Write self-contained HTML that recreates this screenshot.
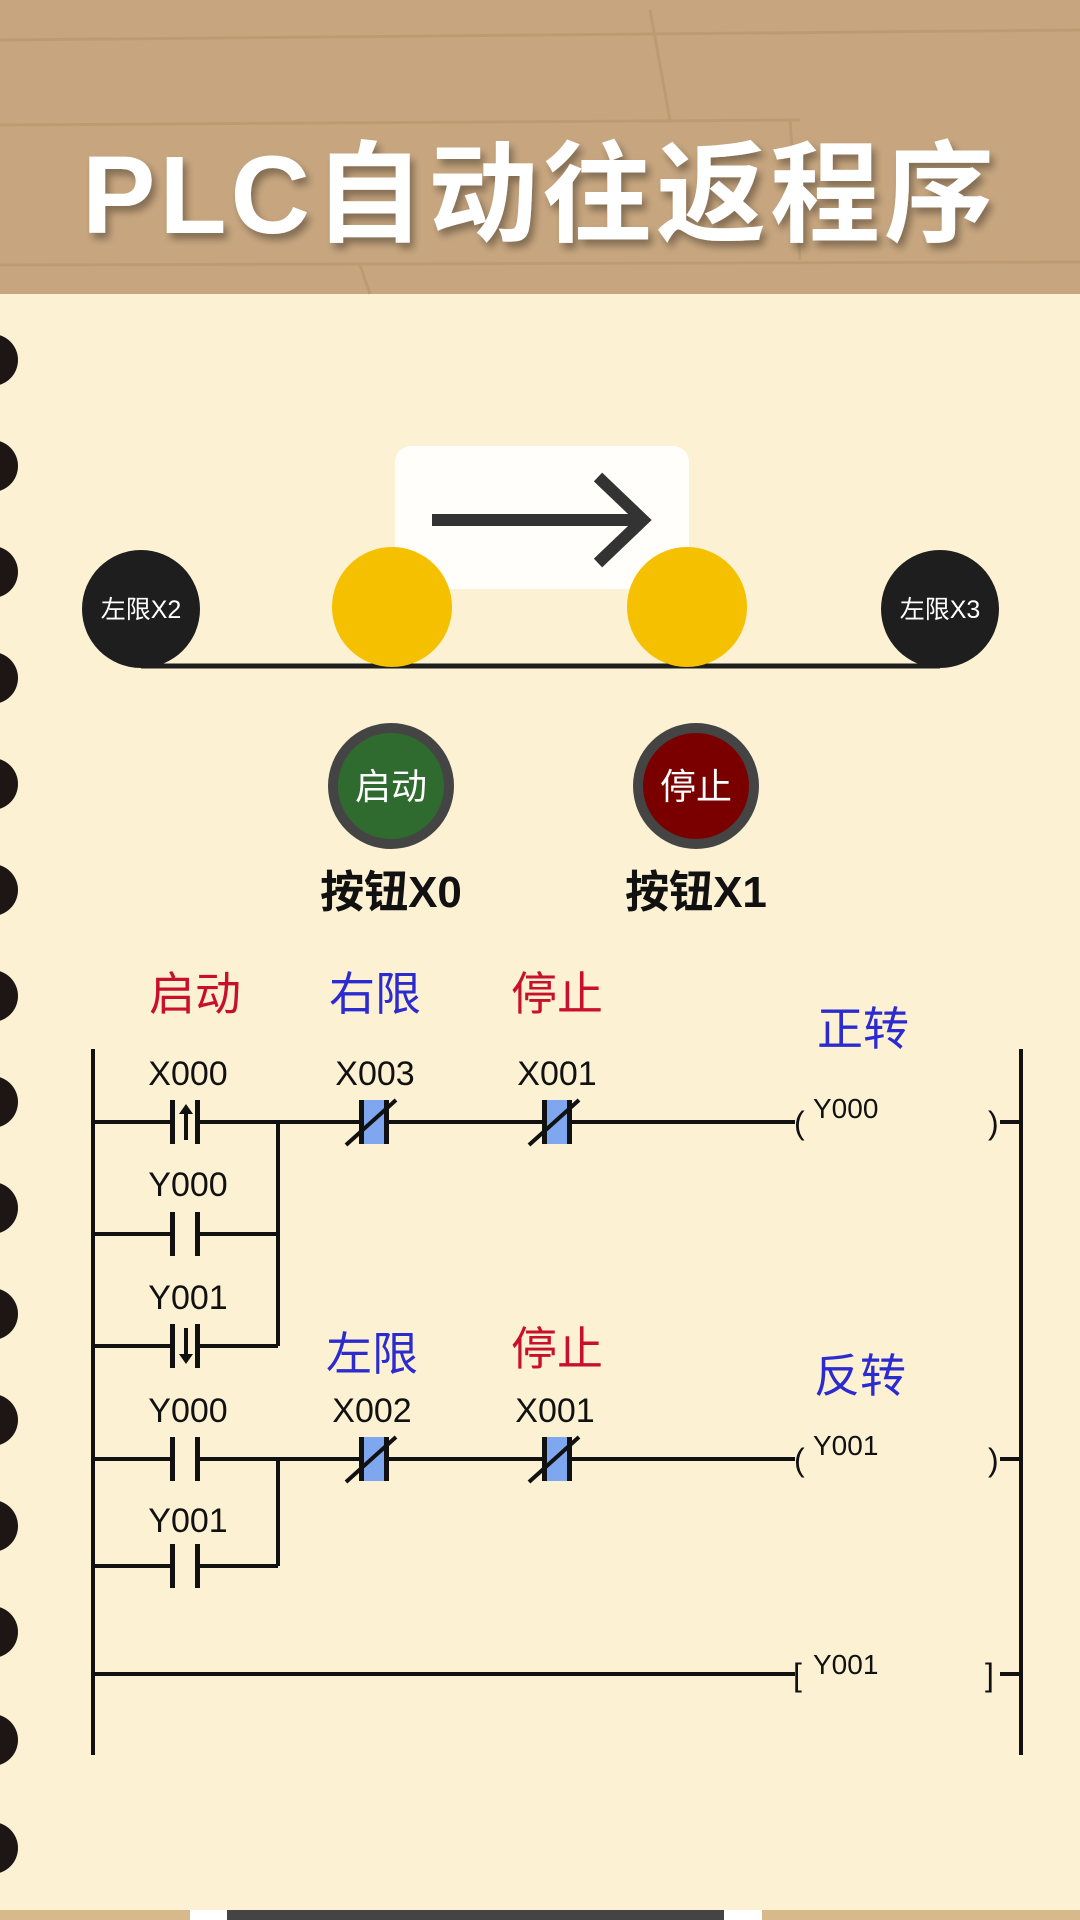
<!DOCTYPE html>
<html><head><meta charset="utf-8"><style>
html,body{margin:0;padding:0;width:1080px;height:1920px;overflow:hidden;background:#FCF1D3;}
svg{display:block}
</style></head><body>
<svg width="1080" height="1920" viewBox="0 0 1080 1920" xmlns="http://www.w3.org/2000/svg" font-family="Liberation Sans, Noto Sans CJK SC, sans-serif">
<defs>
<filter id="sh" x="-10%" y="-10%" width="120%" height="130%"><feDropShadow dx="4" dy="6" stdDeviation="4" flood-color="#000" flood-opacity="0.35"/></filter>
</defs>
<rect width="1080" height="1920" fill="#FCF1D3"/>
<!-- wood header -->
<rect width="1080" height="294" fill="#C7A67F"/>
<g stroke="#B8946B" stroke-width="3" fill="none" opacity="0.6">
<line x1="0" y1="40" x2="1080" y2="30"/><line x1="0" y1="125" x2="800" y2="120"/><line x1="650" y1="10" x2="670" y2="120"/>
<line x1="0" y1="265" x2="1080" y2="262"/><line x1="360" y1="265" x2="370" y2="294"/><line x1="790" y1="120" x2="800" y2="260"/>
</g>
<text x="540" y="233" text-anchor="middle" font-size="110" font-weight="bold" fill="#fff" filter="url(#sh)" letter-spacing="4" font-family="Liberation Sans, Noto Sans CJK SC, sans-serif">PLC自动往返程序</text>
<!-- bottom strip -->
<rect y="1910" width="1080" height="10" fill="#D8B98C"/>
<rect x="190" y="1910" width="40" height="10" fill="#fff"/>
<rect x="227" y="1910" width="497" height="10" fill="#444"/>
<rect x="724" y="1910" width="38" height="10" fill="#fff"/>
<!-- binder holes -->
<g fill="#1E1614">
<circle cx="-8" cy="360" r="26"/><circle cx="-8" cy="466" r="26"/><circle cx="-8" cy="572" r="26"/><circle cx="-8" cy="678" r="26"/><circle cx="-8" cy="784" r="26"/><circle cx="-8" cy="890" r="26"/><circle cx="-8" cy="996" r="26"/><circle cx="-8" cy="1102" r="26"/><circle cx="-8" cy="1208" r="26"/><circle cx="-8" cy="1314" r="26"/><circle cx="-8" cy="1420" r="26"/><circle cx="-8" cy="1526" r="26"/><circle cx="-8" cy="1632" r="26"/><circle cx="-8" cy="1740" r="26"/><circle cx="-8" cy="1848" r="26"/>
</g>
<!-- track -->
<rect x="395" y="446" width="294" height="143" rx="16" fill="#FFFEFA"/>
<line x1="432" y1="520" x2="640" y2="520" stroke="#333" stroke-width="12"/>
<polyline points="598,477 643,520 598,563" fill="none" stroke="#333" stroke-width="12"/>
<line x1="141" y1="666" x2="940" y2="666" stroke="#1E1E1E" stroke-width="5"/>
<circle cx="141" cy="609" r="59" fill="#1E1E1E"/>
<circle cx="940" cy="609" r="59" fill="#1E1E1E"/>
<text x="141" y="618" text-anchor="middle" font-size="25" fill="#fff">左限X2</text>
<text x="940" y="618" text-anchor="middle" font-size="25" fill="#fff">左限X3</text>
<circle cx="392" cy="607" r="60" fill="#F5C000"/>
<circle cx="687" cy="607" r="60" fill="#F5C000"/>
<!-- buttons -->
<circle cx="391" cy="786" r="63" fill="#444"/><circle cx="391" cy="786" r="53" fill="#2F6B2E"/>
<circle cx="696" cy="786" r="63" fill="#444"/><circle cx="696" cy="786" r="53" fill="#7A0000"/>
<text x="391" y="799" text-anchor="middle" font-size="36" fill="#fff">启动</text>
<text x="696" y="799" text-anchor="middle" font-size="36" fill="#fff">停止</text>
<text x="391" y="907" text-anchor="middle" font-size="44" font-weight="bold" fill="#111">按钮X0</text>
<text x="696" y="907" text-anchor="middle" font-size="44" font-weight="bold" fill="#111">按钮X1</text>
<!-- labels -->
<g font-size="46">
<text x="195" y="1010" text-anchor="middle" fill="#C8102E">启动</text>
<text x="375" y="1010" text-anchor="middle" fill="#2B2BD0">右限</text>
<text x="557" y="1010" text-anchor="middle" fill="#C8102E">停止</text>
<text x="863" y="1045" text-anchor="middle" fill="#2B2BD0">正转</text>
<text x="372" y="1370" text-anchor="middle" fill="#2B2BD0">左限</text>
<text x="557" y="1365" text-anchor="middle" fill="#C8102E">停止</text>
<text x="860" y="1392" text-anchor="middle" fill="#2B2BD0">反转</text>
</g>
<!-- ladder -->
<g stroke="#111" stroke-width="4" fill="none">
<line x1="93" y1="1049" x2="93" y2="1755"/>
<line x1="1021" y1="1049" x2="1021" y2="1755"/>
<!-- rung1 -->
<path d="M93 1122 H172 M198 1122 H360 M387 1122 H543 M569 1122 H795"/>
<path d="M93 1234 H172 M198 1234 H278 M93 1346 H172 M198 1346 H278 M278 1122 V1346"/>
<path d="M1000 1122 H1021"/>
<!-- rung2 -->
<path d="M93 1459 H172 M198 1459 H360 M387 1459 H543 M569 1459 H795"/>
<path d="M93 1566 H172 M198 1566 H278 M278 1459 V1566"/>
<path d="M1000 1459 H1021"/>
<!-- rung3 -->
<path d="M93 1674 H795 M1000 1674 H1021"/>
</g>
<!-- contact plates -->
<g fill="#111">
<rect x="170" y="1100" width="5" height="44"/><rect x="195" y="1100" width="5" height="44"/>
<rect x="170" y="1212" width="5" height="44"/><rect x="195" y="1212" width="5" height="44"/>
<rect x="170" y="1324" width="5" height="44"/><rect x="195" y="1324" width="5" height="44"/>
<rect x="170" y="1437" width="5" height="44"/><rect x="195" y="1437" width="5" height="44"/>
<rect x="170" y="1544" width="5" height="44"/><rect x="195" y="1544" width="5" height="44"/>
</g>
<!-- edge arrows -->
<g stroke="#111" stroke-width="4" fill="#111">
<line x1="186" y1="1140" x2="186" y2="1112"/><polygon points="179,1114 186,1104 193,1114" stroke="none"/>
<line x1="186" y1="1328" x2="186" y2="1356"/><polygon points="179,1354 186,1364 193,1354" stroke="none"/>
</g>
<!-- NC contacts -->
<g>
<rect x="362" y="1100" width="24" height="44" fill="#7FA7F0"/><rect x="545" y="1100" width="24" height="44" fill="#7FA7F0"/>
<rect x="362" y="1437" width="24" height="44" fill="#7FA7F0"/><rect x="545" y="1437" width="24" height="44" fill="#7FA7F0"/>
<g fill="#111">
<rect x="359" y="1100" width="5" height="44"/><rect x="384" y="1100" width="5" height="44"/>
<rect x="542" y="1100" width="5" height="44"/><rect x="567" y="1100" width="5" height="44"/>
<rect x="359" y="1437" width="5" height="44"/><rect x="384" y="1437" width="5" height="44"/>
<rect x="542" y="1437" width="5" height="44"/><rect x="567" y="1437" width="5" height="44"/>
</g>
<g stroke="#111" stroke-width="4">
<line x1="346" y1="1145" x2="396" y2="1100"/><line x1="529" y1="1145" x2="579" y2="1100"/>
<line x1="346" y1="1482" x2="396" y2="1437"/><line x1="529" y1="1482" x2="579" y2="1437"/>
</g>
</g>
<!-- coils -->
<g font-size="32" fill="#111">
<text x="794" y="1134">(</text><text x="988" y="1134">)</text>
<text x="794" y="1471">(</text><text x="988" y="1471">)</text>
<text x="793" y="1686">[</text><text x="985" y="1686">]</text>
</g>
<g font-size="28" fill="#111">
<text x="813" y="1118">Y000</text>
<text x="813" y="1455">Y001</text>
<text x="813" y="1674">Y001</text>
</g>
<!-- contact labels -->
<g font-size="34" fill="#111" text-anchor="middle">
<text x="188" y="1085">X000</text><text x="375" y="1085">X003</text><text x="557" y="1085">X001</text>
<text x="188" y="1196">Y000</text><text x="188" y="1309">Y001</text>
<text x="188" y="1422">Y000</text><text x="372" y="1422">X002</text><text x="555" y="1422">X001</text>
<text x="188" y="1532">Y001</text>
</g>
</svg>
</body></html>
